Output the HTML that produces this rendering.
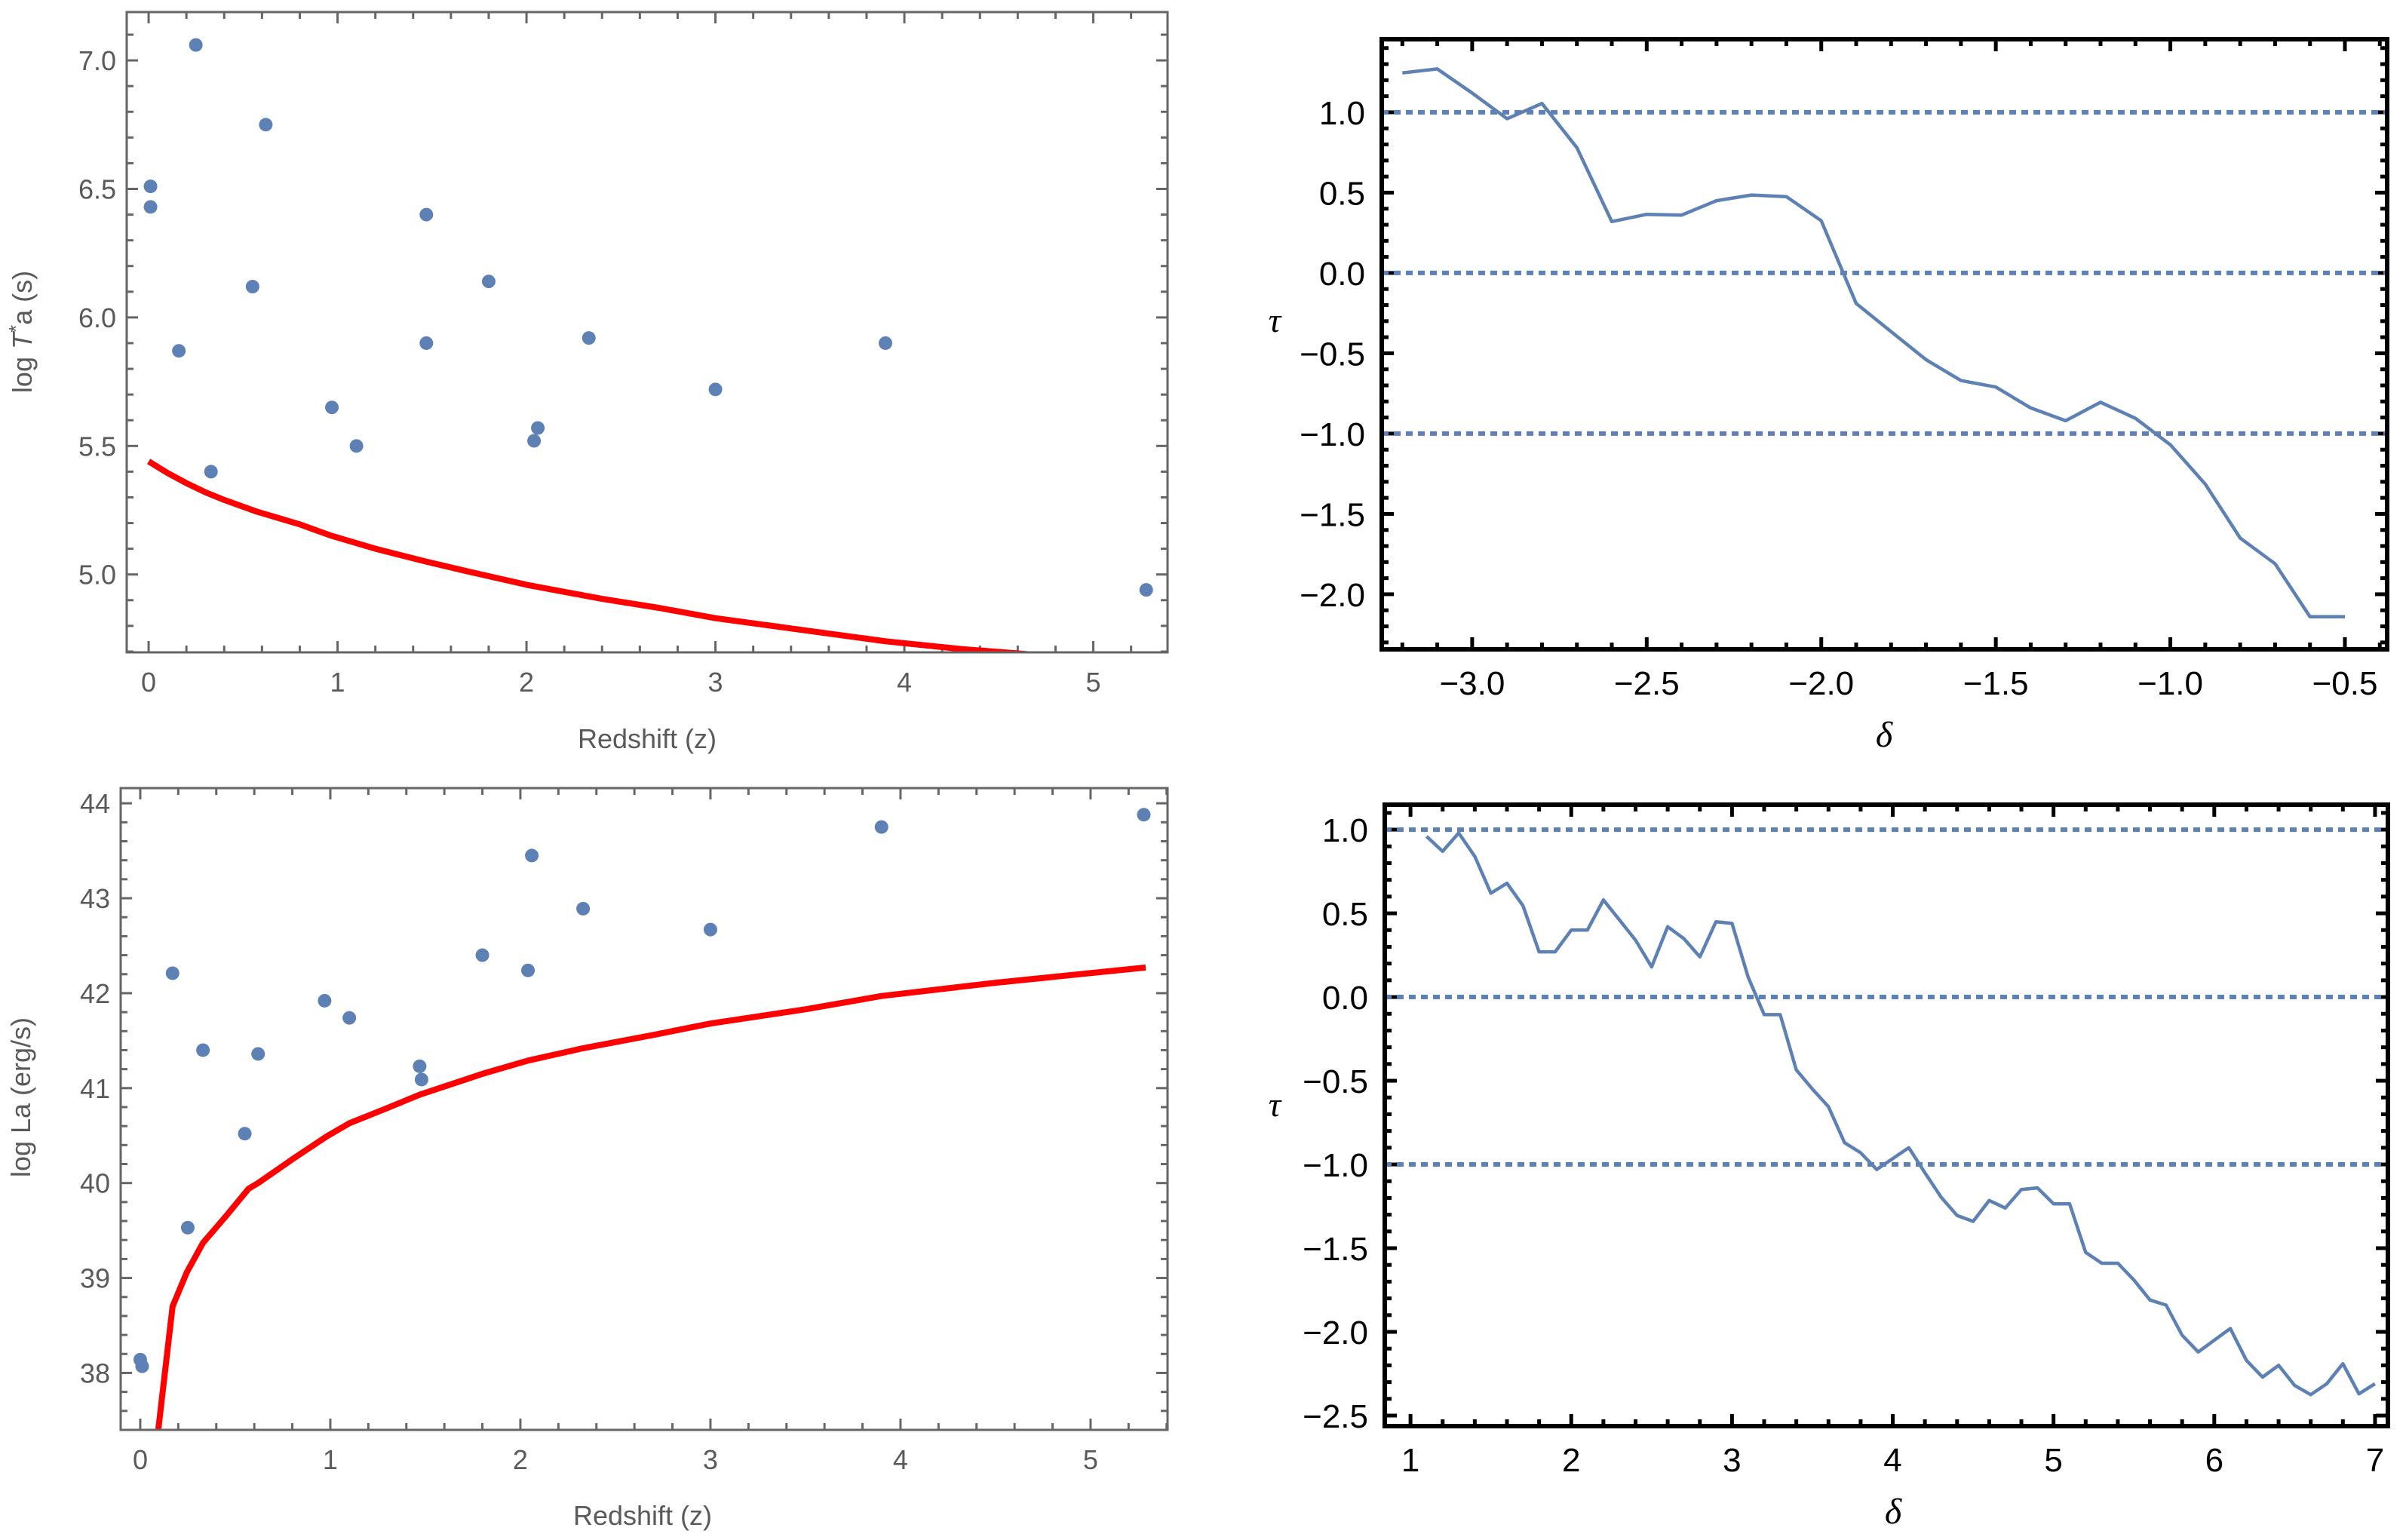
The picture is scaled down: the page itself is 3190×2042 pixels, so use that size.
<!DOCTYPE html>
<html><head><meta charset="utf-8">
<style>
html,body{margin:0;padding:0;background:#fff;}
svg{display:block;}
</style></head>
<body>
<svg id="root" xmlns="http://www.w3.org/2000/svg" width="3190" height="2042" viewBox="0 0 3190 2042"></svg>
<script>
// ---------- data ----------
const tlZ = [0.01,0.01,0.25,0.16,0.33,0.55,0.62,0.97,1.10,1.47,1.47,1.80,2.04,2.06,2.33,3.00,3.90,5.28];
const tlT = [6.51,6.43,7.06,5.87,5.40,6.12,6.75,5.65,5.50,6.40,5.90,6.14,5.52,5.57,5.92,5.72,5.90,4.94];
const tlCurveZ = [0,0.1,0.2,0.3,0.4,0.57,0.8,0.97,1.2,1.47,1.7,2.0,2.4,2.7,3.0,3.4,3.9,4.3,4.65,5.0,5.3];
const tlCurveT = [5.44,5.395,5.355,5.32,5.29,5.245,5.195,5.15,5.10,5.05,5.01,4.96,4.905,4.87,4.83,4.79,4.74,4.71,4.69,4.66,4.63];

const blZ = [0.00,0.01,0.17,0.25,0.33,0.55,0.62,0.97,1.10,1.47,1.48,1.80,2.04,2.06,2.33,3.00,3.90,5.28];
const blL = [38.14,38.07,42.21,39.53,41.40,40.52,41.36,41.92,41.74,41.23,41.09,42.40,42.24,43.45,42.89,42.67,43.75,43.88];
const blCurveZ = [0.06,0.17,0.245,0.33,0.45,0.57,0.62,0.8,0.98,1.10,1.3,1.47,1.80,2.04,2.33,2.7,3.0,3.5,3.9,4.5,5.29];
const blCurveL = [36.8,38.70,39.06,39.37,39.65,39.94,40.0,40.25,40.49,40.63,40.79,40.93,41.15,41.29,41.42,41.56,41.68,41.83,41.97,42.11,42.27];

const trD = [-3.2,-3.1,-3.0,-2.9,-2.8,-2.7,-2.6,-2.5,-2.4,-2.3,-2.2,-2.1,-2.0,-1.9,-1.8,-1.7,-1.6,-1.5,-1.4,-1.3,-1.2,-1.1,-1.0,-0.9,-0.8,-0.7,-0.6,-0.5];
const trTau = [1.245,1.27,1.12,0.96,1.055,0.78,0.32,0.365,0.36,0.45,0.485,0.475,0.325,-0.19,-0.365,-0.54,-0.67,-0.71,-0.84,-0.92,-0.805,-0.905,-1.07,-1.315,-1.65,-1.81,-2.14,-2.14];

const brD = [1.1,1.2,1.3,1.4,1.5,1.6,1.7,1.8,1.9,2.0,2.1,2.2,2.3,2.4,2.5,2.6,2.7,2.8,2.9,3.0,3.1,3.2,3.3,3.4,3.5,3.6,3.7,3.8,3.9,4.0,4.1,4.2,4.3,4.4,4.5,4.6,4.7,4.8,4.9,5.0,5.1,5.2,5.3,5.4,5.5,5.6,5.7,5.8,5.9,6.0,6.1,6.2,6.3,6.4,6.5,6.6,6.7,6.8,6.9,7.0];
const brTau = [0.96,0.87,0.98,0.84,0.62,0.68,0.545,0.27,0.27,0.40,0.40,0.58,0.46,0.34,0.18,0.42,0.35,0.24,0.45,0.44,0.12,-0.105,-0.105,-0.435,-0.55,-0.655,-0.87,-0.93,-1.03,-0.965,-0.9,-1.05,-1.195,-1.305,-1.34,-1.215,-1.26,-1.15,-1.14,-1.235,-1.235,-1.525,-1.59,-1.59,-1.69,-1.81,-1.84,-2.02,-2.12,-2.05,-1.98,-2.17,-2.27,-2.2,-2.32,-2.375,-2.31,-2.19,-2.37,-2.31];

const refLines = [-1,0,1];
const tlYTicks = ["5.0","5.5","6.0","6.5","7.0"];
const blYTicks = ["38","39","40","41","42","43","44"];
const zTicks = ["0","1","2","3","4","5"];
const trXTicks = ["-3.0","-2.5","-2.0","-1.5","-1.0","-0.5"];
const trYTicks = ["-2.0","-1.5","-1.0","-0.5","0.0","0.5","1.0"];
const brXTicks = ["1","2","3","4","5","6","7"];
const brYTicks = ["-2.5","-2.0","-1.5","-1.0","-0.5","0.0","0.5","1.0"];

// ---------- helpers ----------
const NS="http://www.w3.org/2000/svg";
const root=document.getElementById('root');
function mk(tag,attrs,parent){const e=document.createElementNS(NS,tag);for(const k in attrs)e.setAttribute(k,attrs[k]);(parent||root).appendChild(e);return e;}
function lin(d0,d1,r0,r1){return v=>r0+(v-d0)*(r1-r0)/(d1-d0);}
function fmt(s){return s.replace('-','\u2212');}

function panel(cfg){
  const g=mk('g',{});
  
  
  const X=lin(cfg.xd[0],cfg.xd[1],cfg.x0,cfg.x1), Y=lin(cfg.yd[0],cfg.yd[1],cfg.y1,cfg.y0);
  const cid='clip-'+cfg.name;
  const cp=mk('clipPath',{id:cid},g); mk('rect',{x:cfg.x0,y:cfg.y0,width:cfg.x1-cfg.x0,height:cfg.y1-cfg.y0},cp);
  const col=cfg.axisColor, sw=cfg.tickW;
  const tg=mk('g',{stroke:col,'stroke-width':sw},g);
   
  const eps=1e-6;
  for(let v=Math.ceil(cfg.xd[0]/cfg.xMinor)*cfg.xMinor; v<=cfg.xd[1]+eps; v+=cfg.xMinor){
    const isMaj=Math.abs(v/cfg.xMajor-Math.round(v/cfg.xMajor))<1e-4;
    const L=isMaj?cfg.majL:cfg.minL, x=X(v);
    mk('line',{x1:x,x2:x,y1:cfg.y1,y2:cfg.y1-L},tg); mk('line',{x1:x,x2:x,y1:cfg.y0,y2:cfg.y0+L},tg);
  }
  for(let v=Math.ceil(cfg.yd[0]/cfg.yMinor)*cfg.yMinor; v<=cfg.yd[1]+eps; v+=cfg.yMinor){
    const isMaj=Math.abs(v/cfg.yMajor-Math.round(v/cfg.yMajor))<1e-4;
    const L=isMaj?cfg.majL:cfg.minL, y=Y(v);
    mk('line',{x1:cfg.x0,x2:cfg.x0+L,y1:y,y2:y},tg); mk('line',{x1:cfg.x1,x2:cfg.x1-L,y1:y,y2:y},tg);
  }
  cfg.xTicks.forEach(t=>{const e=mk('text',{x:X(parseFloat(t)),y:cfg.y1+cfg.xLabOff,'text-anchor':'middle','font-family':'Liberation Sans, sans-serif','font-size':cfg.fs,fill:cfg.labColor},g);e.textContent=fmt(t);
     });
  cfg.yTicks.forEach(t=>{const e=mk('text',{x:cfg.x0-cfg.yLabOff,y:Y(parseFloat(t))+cfg.fs*0.36,'text-anchor':'end','font-family':'Liberation Sans, sans-serif','font-size':cfg.fs,fill:cfg.labColor},g);e.textContent=fmt(t);
     });
  const plot=mk('g',{'clip-path':'url(#'+cid+')'},g);
   
  const fr=mk('rect',{x:cfg.x0,y:cfg.y0,width:cfg.x1-cfg.x0,height:cfg.y1-cfg.y0,fill:'none',stroke:col,'stroke-width':cfg.frameW},g);
   
  return {g,plot,X,Y};
}

function polyline(p,xs,ys,X,Y,color,w,name){
  const d=xs.map((x,i)=>(i?'L':'M')+X(x).toFixed(1)+' '+Y(ys[i]).toFixed(1)).join(' ');
  const e=mk('path',{d:d,fill:'none',stroke:color,'stroke-width':w,'stroke-linejoin':'round'},p);
   
}
function label(txt,x,y,opts,rot,name){
  const a={x:x,y:y,'text-anchor':'middle','font-family':opts.family||'Liberation Sans, sans-serif','font-size':opts.fs,fill:opts.fill};
  if(opts.italic)a['font-style']='italic';
  if(rot)a.transform='rotate(-90 '+x+' '+y+')';
  const e=mk('text',a); e.innerHTML=txt;
   
}

const gray='#5a5a5a', blue='#5e81b5';
// ---------- top-left ----------
let P=panel({name:'panel-top-left',x0:168,x1:1548,y0:16,y1:865,xd:[-0.116,5.393],yd:[4.697,7.188],
  xMajor:1,xMinor:0.2,yMajor:0.5,yMinor:0.1,majL:15,minL:9,tickW:3,frameW:3,axisColor:'#666',labColor:gray,fs:36,
  xLabOff:52,yLabOff:14,xTicks:zTicks,yTicks:tlYTicks});
polyline(P.plot,tlCurveZ,tlCurveT,P.X,P.Y,'#ff0000',8,'limit-curve');
tlZ.forEach((z,i)=>{const c=mk('circle',{cx:P.X(z),cy:P.Y(tlT[i]),r:9,fill:blue},P.plot);
   });
label('log <tspan font-style="italic">T</tspan><tspan dy="-12" font-size="26">*</tspan><tspan dy="12">a (s)</tspan>',42,440,{fs:36,fill:gray},true,'y-axis-title');
label('Redshift (z)',858,992,{fs:36,fill:gray},false,'x-axis-title');

// ---------- bottom-left ----------
P=panel({name:'panel-bottom-left',x0:160,x1:1548,y0:1045,y1:1896,xd:[-0.103,5.405],yd:[37.40,44.16],
  xMajor:1,xMinor:0.2,yMajor:1,yMinor:0.2,majL:15,minL:9,tickW:3,frameW:3,axisColor:'#666',labColor:gray,fs:36,
  xLabOff:52,yLabOff:14,xTicks:zTicks,yTicks:blYTicks});
polyline(P.plot,blCurveZ,blCurveL,P.X,P.Y,'#ff0000',8,'limit-curve');
blZ.forEach((z,i)=>{const c=mk('circle',{cx:P.X(z),cy:P.Y(blL[i]),r:9,fill:blue},P.plot);
   });
label('log La (erg/s)',40,1455,{fs:36,fill:gray},true,'y-axis-title');
label('Redshift (z)',852,2022,{fs:36,fill:gray},false,'x-axis-title');

// ---------- top-right ----------
P=panel({name:'panel-top-right',x0:1832,x1:3165,y0:52,y1:861,xd:[-3.259,-0.379],yd:[-2.343,1.455],
  xMajor:0.5,xMinor:0.1,yMajor:0.5,yMinor:0.1,majL:16,minL:9,tickW:5,frameW:6,axisColor:'#000',labColor:'#000',fs:44,
  xLabOff:60,yLabOff:22,xTicks:trXTicks,yTicks:trYTicks});
refLines.forEach(v=>{const l=mk('line',{x1:1832,x2:3165,y1:P.Y(v),y2:P.Y(v),stroke:blue,'stroke-width':6,'stroke-dasharray':'9 7'},P.plot);
   });
polyline(P.plot,trD,trTau,P.X,P.Y,blue,4.5,'tau-curve');
label('τ',1690,440,{fs:46,fill:'#000',italic:true,family:'Liberation Serif, serif'},false,'y-axis-title');
label('δ',2498,990,{fs:48,fill:'#000',italic:true,family:'Liberation Serif, serif'},false,'x-axis-title');

// ---------- bottom-right ----------
P=panel({name:'panel-bottom-right',x0:1836,x1:3166,y0:1067,y1:1891,xd:[0.84,7.08],yd:[-2.563,1.149],
  xMajor:1,xMinor:0.2,yMajor:0.5,yMinor:0.1,majL:16,minL:9,tickW:5,frameW:6,axisColor:'#000',labColor:'#000',fs:44,
  xLabOff:60,yLabOff:22,xTicks:brXTicks,yTicks:brYTicks});
refLines.forEach(v=>{const l=mk('line',{x1:1836,x2:3166,y1:P.Y(v),y2:P.Y(v),stroke:blue,'stroke-width':6,'stroke-dasharray':'9 7'},P.plot);
   });
polyline(P.plot,brD,brTau,P.X,P.Y,blue,4.5,'tau-curve');
label('τ',1690,1480,{fs:46,fill:'#000',italic:true,family:'Liberation Serif, serif'},false,'y-axis-title');
label('δ',2510,2020,{fs:48,fill:'#000',italic:true,family:'Liberation Serif, serif'},false,'x-axis-title');
</script>
</body></html>
